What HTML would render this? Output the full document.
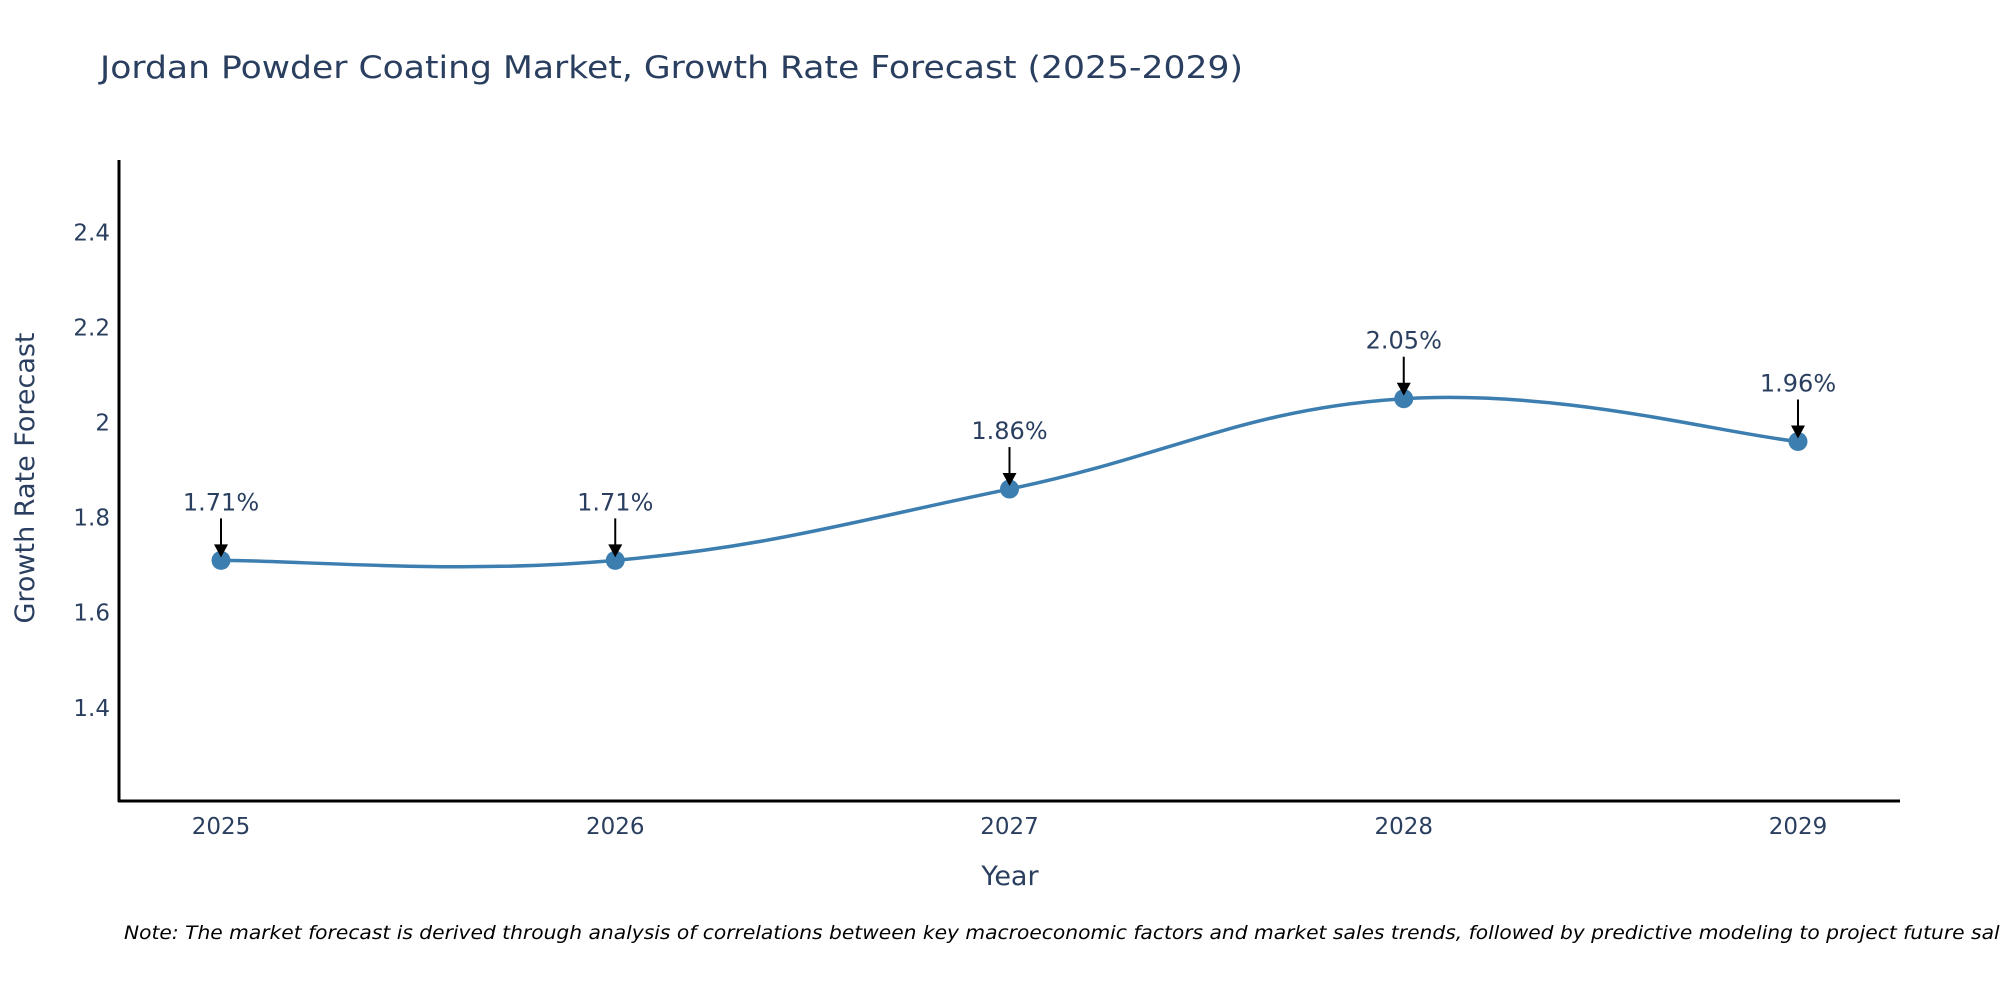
<!DOCTYPE html>
<html><head><meta charset="utf-8"><style>
html,body{margin:0;padding:0;background:#fff;overflow:hidden;}
svg{display:block;font-family:"DejaVu Sans","Liberation Sans",sans-serif;}
</style></head><body>
<svg id="chart" width="2000" height="1000" viewBox="0 0 2000 1000">
<text x="100" y="78" font-size="31" fill="#2a3f5f" textLength="1143" lengthAdjust="spacingAndGlyphs">Jordan Powder Coating Market, Growth Rate Forecast (2025-2029)</text>
<g id="yticks"></g>
<g id="xticks"></g>
<line x1="119" y1="160" x2="119" y2="802" stroke="#000" stroke-width="3"/>
<line x1="118" y1="801" x2="1900" y2="801" stroke="#000" stroke-width="3"/>
<path id="line" fill="none" stroke="#3d7eb0" stroke-width="3.5"/>
<g id="points"></g>
<g id="annots"></g>
<text x="0" y="0" transform="translate(34,478) rotate(-90)" text-anchor="middle" font-size="27" fill="#2a3f5f">Growth Rate Forecast</text>
<text x="1010" y="885" text-anchor="middle" font-size="27" fill="#2a3f5f">Year</text>
<text x="124" y="939" font-size="19" font-style="italic" fill="#000" textLength="1905" lengthAdjust="spacingAndGlyphs">Note: The market forecast is derived through analysis of correlations between key macroeconomic factors and market sales trends, followed by predictive modeling to project future sales.</text>
</svg>
<script>
const years = [2025, 2026, 2027, 2028, 2029];
const growth = [1.71, 1.71, 1.86, 2.05, 1.96];
const labels = ["1.71%", "1.71%", "1.86%", "2.05%", "1.96%"];
const yTickVals = [1.4, 1.6, 1.8, 2.0, 2.2, 2.4];
const yTickLabels = ["1.4", "1.6", "1.8", "2", "2.2", "2.4"];

const NS = "http://www.w3.org/2000/svg";
const xMin = 2025, xPx0 = 221, xStep = 394.25;
const yMin = 1.204, yMax = 2.552, yTop = 160, yBot = 801;
const xs = v => xPx0 + (v - xMin) * xStep;
const ys = v => yBot - (v - yMin) / (yMax - yMin) * (yBot - yTop);
function mk(tag, attrs, parent) {
  const el = document.createElementNS(NS, tag);
  for (const k in attrs) el.setAttribute(k, attrs[k]);
  parent.appendChild(el);
  return el;
}
const yt = document.getElementById("yticks");
yTickVals.forEach((v, i) => {
  const t = mk("text", {x: 110, y: ys(v) + 8, "text-anchor": "end", "font-size": 23, fill: "#2a3f5f"}, yt);
  
  
  t.textContent = yTickLabels[i];
});
const xt = document.getElementById("xticks");
years.forEach(y => {
  const t = mk("text", {x: xs(y), y: 834, "text-anchor": "middle", "font-size": 23, fill: "#2a3f5f"}, xt);
  
  
  t.textContent = String(y);
});
const P = years.map((y, i) => [xs(y), ys(growth[i])]);
let d = "M" + P[0][0] + "," + P[0][1];
const k = 0.2;
for (let i = 0; i < P.length - 1; i++) {
  const p0 = P[i - 1] || P[i], p1 = P[i], p2 = P[i + 1], p3 = P[i + 2] || P[i + 1];
  const c1 = [p1[0] + (p2[0] - p0[0]) * k, p1[1] + (p2[1] - p0[1]) * k];
  const c2 = [p2[0] - (p3[0] - p1[0]) * k, p2[1] - (p3[1] - p1[1]) * k];
  d += " C" + c1[0] + "," + c1[1] + " " + c2[0] + "," + c2[1] + " " + p2[0] + "," + p2[1];
}
document.getElementById("line").setAttribute("d", d);
const pts = document.getElementById("points");
const an = document.getElementById("annots");
P.forEach((p, i) => {
  const c = mk("circle", {cx: p[0], cy: p[1], r: 9.5, fill: "#3d7eb0"}, pts);
  
  
  const l = mk("line", {x1: p[0], y1: p[1] - 42, x2: p[0], y2: p[1] - 14, stroke: "#000", "stroke-width": 2}, an);
  
  
  const h = mk("polygon", {points: (p[0]-7)+","+(p[1]-16)+" "+(p[0]+7)+","+(p[1]-16)+" "+p[0]+","+(p[1]-3)}, an);
  
  
  const t = mk("text", {x: p[0], y: p[1] - 50, "text-anchor": "middle", "font-size": 24, fill: "#2a3f5f"}, an);
  
  
  t.textContent = labels[i];
});
</script>
</body></html>
